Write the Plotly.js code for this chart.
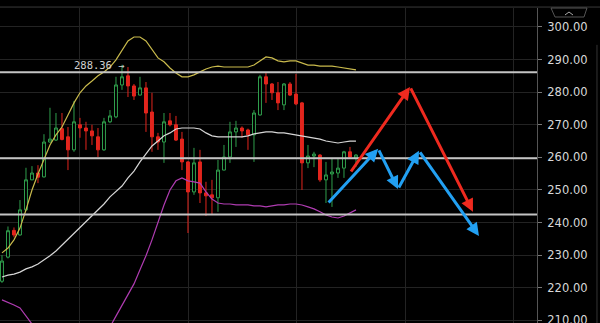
<!DOCTYPE html>
<html>
<head>
<meta charset="utf-8">
<script src="https://cdn.plot.ly/plotly-3.0.1.min.js"></script>
<style>
  html, body { margin: 0; padding: 0; background: #000; }
  #chart { width: 600px; height: 323px; }
</style>
</head>
<body>
<div id="chart"></div>
<script>
// ---- data ----
const candleIndex = [0,1,2,3,4,5,6,7,8,9,10,11,12,13,14,15,16,17,18,19,20,21,22,23,24,25,26,27,28,29,30,31,32,33,34,35,36,37,38,39,40,41,42,43,44,45,46,47,48,49,50,51,52,53,54,55,56,57,58,59];
const openVals  = [222.0,229.4,237.6,236.2,243.9,253.1,255.2,254.0,264.7,265.3,268.8,266.3,262.3,270.0,269.0,268.1,266.3,262.3,270.9,272.4,282.2,285.0,281.9,279.1,281.3,273.9,266.3,264.7,271.2,270.0,265.6,258.6,249.4,258.6,249.1,248.5,247.6,256.1,260.1,267.8,269.0,268.4,266.9,273.0,284.7,282.5,279.8,276.1,282.5,279.4,276.7,258.3,260.4,260.7,253.1,254.9,255.2,256.7,261.7,259.8];
const highVals  = [230.0,238.8,238.5,246.9,256.8,257.3,257.6,267.1,275.2,273.6,273.6,269.3,277.3,272.1,270.9,270.0,269.0,272.1,274.5,284.7,288.36,287.7,282.5,284.7,283.1,279.8,267.5,273.6,273.6,272.7,267.8,258.9,262.9,262.3,252.5,253.1,259.2,263.8,270.9,271.2,269.5,268.8,274.5,285.3,285.9,282.8,283.1,282.8,283.1,285.6,277.0,263.8,261.7,261.0,258.6,259.5,259.8,262.0,263.2,261.0];
const lowVals   = [221.5,229.0,235.5,236.0,243.5,253.0,252.1,253.8,264.5,265.0,265.2,256.1,261.7,266.0,262.3,263.8,260.1,262.0,270.5,272.0,280.7,278.5,277.6,279.0,267.8,261.7,262.3,258.3,269.5,265.0,256.1,236.8,248.5,246.0,242.0,242.3,243.3,256.0,258.3,263.2,266.0,262.3,258.6,272.8,276.7,277.6,274.5,274.5,278.8,276.0,250.0,256.7,257.0,252.5,246.0,244.8,253.7,253.7,259.8,257.1];
const closeVals = [228.2,237.5,236.2,243.9,253.1,255.2,253.9,264.7,265.6,269.0,265.5,262.3,270.9,269.0,268.1,266.6,262.3,270.9,272.7,282.2,284.7,281.9,278.8,281.3,273.6,266.3,264.7,270.9,270.0,265.3,258.6,249.4,258.3,249.1,248.2,247.6,256.1,260.1,267.8,269.0,268.1,266.9,273.6,284.7,282.5,279.8,276.7,282.5,279.1,276.4,258.3,260.4,261.0,253.1,254.6,255.5,256.7,261.7,260.1,260.7];

const upperBand  = [230.7,232.2,234.7,238.3,243.9,250.0,254.9,259.2,263.8,266.9,269.3,273.0,276.7,279.8,281.9,283.4,285.0,286.2,287.7,289.9,292.9,295.7,296.9,296.9,295.7,292.9,290.5,289.3,287.4,285.9,284.7,284.7,285.3,286.2,287.1,287.7,288.0,287.7,287.7,287.7,287.7,287.7,288.3,289.6,290.8,290.5,289.6,289.3,289.6,289.6,289.0,288.3,288.3,288.0,288.0,288.0,287.7,287.4,287.1,286.8];
const middleBand = [223.3,223.9,224.2,224.8,225.8,226.4,227.3,228.5,229.8,231.3,233.1,235.0,236.8,238.7,240.2,242.0,243.9,245.7,247.9,249.7,251.2,253.7,255.8,258.6,261.0,263.5,265.0,266.6,267.5,268.7,269.0,269.0,269.0,268.7,267.5,266.6,266.3,266.3,266.3,266.3,266.3,266.6,267.2,267.5,267.8,267.8,267.5,267.5,267.2,266.9,266.6,266.3,266.0,265.6,265.0,264.7,264.4,264.7,265.0,265.0];
const lowerBand  = [216.3,215.6,214.7,213.8,211.3,208.6,206.0,204.0,202.0,200.5,199.5,199.0,199.0,199.5,200.5,202.0,204.0,206.0,208.0,211.3,214.7,217.8,221.2,225.5,229.8,234.7,240.2,245.4,250.0,252.8,253.7,252.8,252.5,252.1,249.4,247.2,246.0,245.7,245.7,245.4,245.4,245.4,245.1,245.1,244.8,245.1,245.4,245.4,245.7,245.7,245.4,244.8,244.2,243.3,242.3,241.7,241.4,242.0,242.9,243.9];

const levelLines = [286.1, 259.7, 242.5];
const highLabel = "288.36 →";
const highLabelX = 20.9;
const highLabelY = 288.36;

const redArrowX  = [58, 68, 78.5];
const redArrowY  = [255.2, 281.6, 243.3];
const blueArrowX = [54.2, 62.7, 66, 69.5, 79.5];
const blueArrowY = [245.7, 262.6, 250.3, 262.0, 235.9];

const gridX = [13, 31.05, 49.15, 67.2, 85.2];
const yTicks = [210,220,230,240,250,260,270,280,290,300];

// ---- traces ----
const traces = [
  {
    type: 'candlestick', x: candleIndex,
    open: openVals, high: highVals, low: lowVals, close: closeVals,
    increasing: { line: { color: '#2f9e4c', width: 1 }, fillcolor: '#000000' },
    decreasing: { line: { color: '#e2251d', width: 1 }, fillcolor: '#e2251d' },
    whiskerwidth: 0, hoverinfo: 'skip', showlegend: false
  },
  { type: 'scatter', mode: 'lines', x: candleIndex, y: upperBand,  line: { color: '#c9ba4c', width: 1.2 }, hoverinfo: 'skip', showlegend: false },
  { type: 'scatter', mode: 'lines', x: candleIndex, y: middleBand, line: { color: '#d6d6d6', width: 1.2 }, hoverinfo: 'skip', showlegend: false },
  { type: 'scatter', mode: 'lines', x: candleIndex, y: lowerBand,  line: { color: '#b03cb2', width: 1.2 }, hoverinfo: 'skip', showlegend: false }
];

// ---- shapes ----
const shapes = levelLines.map(v => ({
  type: 'line', xref: 'paper', yref: 'y', x0: 0, x1: 1, y0: v, y1: v,
  line: { color: '#c4c4c4', width: 2 }, layer: 'above'
}));
shapes.push({ type: 'line', xref: 'paper', yref: 'paper', x0: 0, x1: 1.12, y0: 1.003, y1: 1.003, line: { color: '#3a3a3a', width: 1 } });
shapes.push({ type: 'line', xref: 'paper', yref: 'paper', x0: 1.1117, x1: 1.1117, y0: 0, y1: 0.883, line: { color: '#333333', width: 1 } });
shapes.push({ type: 'path', xref: 'paper', yref: 'paper',
  path: 'M 1.0261 1.0 L 1.0335 0.9714 L 1.0875 0.9714 L 1.0931 1.0 Z',
  line: { color: '#555555', width: 1 }, fillcolor: '#000000' });
shapes.push({ type: 'path', xref: 'paper', yref: 'paper',
  path: 'M 1.0521 0.9778 L 1.0596 0.9873 L 1.0670 0.9778',
  line: { color: '#aaaaaa', width: 1 } });

// ---- annotations ----
const annotations = [{
  x: highLabelX, y: highLabelY, xref: 'x', yref: 'y', text: highLabel,
  showarrow: false, xanchor: 'right', yanchor: 'middle',
  font: { family: 'DejaVu Sans Mono', size: 10.5, color: '#d0d0d0' }
}];
function addArrows(xs, ys, color) {
  for (let i = 1; i < xs.length; i++) {
    annotations.push({
      x: xs[i], y: ys[i], ax: xs[i-1], ay: ys[i-1],
      xref: 'x', yref: 'y', axref: 'x', ayref: 'y',
      text: '', showarrow: true, arrowhead: 2, arrowsize: 0.85, arrowwidth: 3,
      arrowcolor: color, standoff: 0, startstandoff: 0
    });
  }
}
addArrows(redArrowX, redArrowY, '#ef2a1f');
addArrows(blueArrowX, blueArrowY, '#22a0f2');

const layout = {
  width: 600, height: 323,
  margin: { l: 0, r: 63, t: 8, b: 0, pad: 0 },
  paper_bgcolor: '#000000', plot_bgcolor: '#000000',
  showlegend: false, hovermode: false,
  xaxis: {
    range: [-0.33, 89.17], type: 'linear', rangeslider: { visible: false },
    tickvals: gridX, showticklabels: false, ticks: '',
    showgrid: true, gridcolor: '#232323', gridwidth: 1, zeroline: false, showline: false, fixedrange: true
  },
  yaxis: {
    range: [209.2, 305.8], side: 'right', tickvals: yTicks, tickformat: '.2f',
    ticks: 'outside', ticklen: 4, tickcolor: '#777777', tickwidth: 1,
    showline: true, linecolor: '#555555', linewidth: 1, mirror: false,
    showgrid: true, gridcolor: '#232323', gridwidth: 1, zeroline: false,
    tickfont: { family: 'DejaVu Sans', size: 11.5, color: '#d8d8d8' },
    ticklabelstandoff: 3, ticklabeloverflow: 'allow', fixedrange: true
  },
  shapes: shapes,
  annotations: annotations
};

Plotly.newPlot('chart', traces, layout, { staticPlot: true, displayModeBar: false });
</script>
</body>
</html>
